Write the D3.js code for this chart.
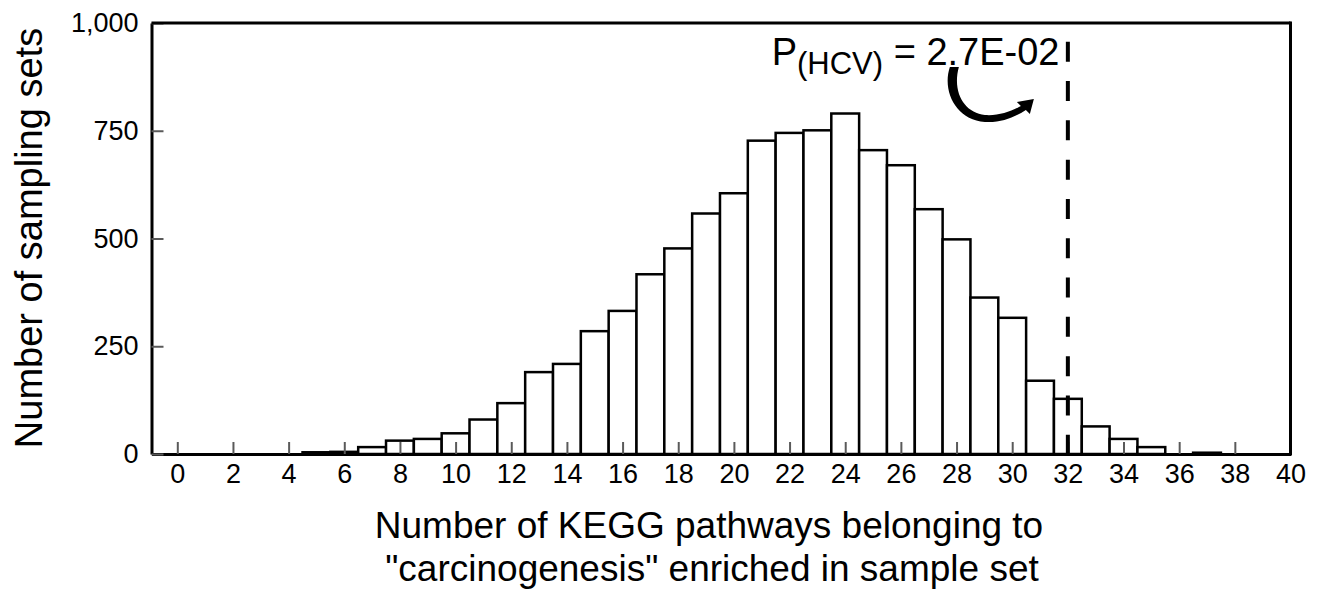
<!DOCTYPE html>
<html>
<head>
<meta charset="utf-8">
<script src="https://cdn.jsdelivr.net/npm/d3@7"></script>
<style>
  body { margin: 0; background: #fff; }
  svg { display: block; font-family: "Liberation Sans", Arial, sans-serif; }
</style>
</head>
<body>
<div id="chart"></div>
<script>
// number of KEGG "carcinogenesis" pathways enriched (0..40)
const bins = d3.range(0, 41)
const counts = [
  0, 0, 0, 0, 0, 4, 5, 16, 31, 35,
  48, 80, 118, 190, 209, 285, 332, 417, 477, 558,
  605, 727, 745, 751, 790, 705, 670, 568, 498, 363,
  316, 170, 128, 64, 35, 16, 0, 3, 0, 0,
  0
]
const xTicks = d3.range(0, 41, 2)
const yTicks = [0, 250, 500, 750, 1000]
const observed = 32
const pLabel = { main: "P", sub: "(HCV)", rest: " = 2.7E-02" }

const width = 1320
const height = 591
const plot = { left: 151.5, right: 1290.5, top: 23, bottom: 454 }

const svg = d3.select("#chart")
  .append("svg")
  .attr("width", width)
  .attr("height", height)

const x = d3.scaleLinear()
  .domain([-0.927, 40])
  .range([plot.left, plot.right])

const y = d3.scaleLinear()
  .domain([0, 1000])
  .range([plot.bottom, plot.top])

const bw = x(1) - x(0)

const data = bins.map((b, i) => ({ bin: b, count: counts[i] })).filter(d => d.count > 0)

// bars
svg.append("g")
  .selectAll("rect")
  .data(data)
  .join("rect")
  .attr("x", d => x(d.bin) - bw / 2)
  .attr("y", d => y(d.count))
  .attr("width", bw)
  .attr("height", d => y(0) - y(d.count))
  .attr("fill", "#fff")
  .attr("stroke", "#000")
  .attr("stroke-width", 2.5)

// axes
const xAxis = svg.append("g")
  .attr("transform", `translate(0,${plot.bottom})`)
  .call(d3.axisBottom(x)
    .tickValues(xTicks)
    .tickSize(-12)
    .tickSizeOuter(0)
    .tickPadding(10))

const yAxis = svg.append("g")
  .attr("transform", `translate(${plot.left},0)`)
  .call(d3.axisLeft(y)
    .tickValues(yTicks)
    .tickSize(-12)
    .tickSizeOuter(0)
    .tickPadding(13)
    .tickFormat(d3.format(",")))

;[xAxis, yAxis].forEach(g => {
  g.attr("font-family", null).attr("font-size", null)
  g.select(".domain").attr("stroke", "#000").attr("stroke-width", 3)
  g.selectAll(".tick line").attr("stroke", "#5a5a5a").attr("stroke-width", 2)
  g.selectAll(".tick text").attr("fill", "#000").style("font-size", "27px")
})

// box top and right
svg.append("line")
  .attr("x1", plot.left).attr("x2", plot.right)
  .attr("y1", plot.top).attr("y2", plot.top)
  .attr("stroke", "#000").attr("stroke-width", 3)
svg.append("line")
  .attr("x1", plot.right).attr("x2", plot.right)
  .attr("y1", plot.top - 1.5).attr("y2", plot.bottom + 1.5)
  .attr("stroke", "#000").attr("stroke-width", 3)

// observed value
svg.append("line")
  .attr("x1", x(observed)).attr("x2", x(observed))
  .attr("y1", y(956.5)).attr("y2", y(0))
  .attr("stroke", "#000")
  .attr("stroke-width", 4)
  .attr("stroke-dasharray", "20 19.3")

const label = svg.append("text")
  .attr("x", x(31.7))
  .attr("y", y(903))
  .attr("text-anchor", "end")
  .style("font-size", "38px")
label.append("tspan").text(pLabel.main)
label.append("tspan").attr("dy", 9).style("font-size", "31px").text(pLabel.sub)
label.append("tspan").attr("dy", -9).text(pLabel.rest)

// curved arrow
const ax = x(observed)
const ay = y(1000)
svg.append("path")
  .attr("transform", `translate(${ax},${ay})`)
  .attr("d", "M-118,44 C-126,68 -112,97 -83,99 C-66,100 -53,94 -42,87 L-38,91 L-34,76 L-51,79 L-47,83 C-57,89 -70,93 -83,92 C-103,90 -116,70 -109,44 Z")
  .attr("fill", "#000")

// axis titles
svg.append("text")
  .attr("transform", `translate(42,238) rotate(-90)`)
  .attr("text-anchor", "middle")
  .style("font-size", "38px")
  .text("Number of sampling sets")

const xt = svg.append("text")
  .attr("text-anchor", "middle")
  .style("font-size", "37px")
xt.append("tspan").attr("x", 709).attr("y", 538).text("Number of KEGG pathways belonging to")
xt.append("tspan").attr("x", 712).attr("y", 581).text("\"carcinogenesis\" enriched in sample set")
</script>
</body>
</html>
